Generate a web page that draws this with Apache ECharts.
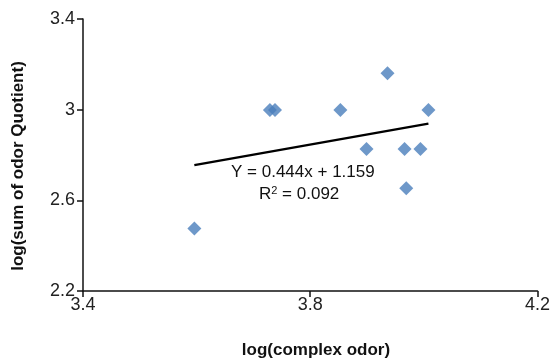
<!DOCTYPE html>
<html>
<head>
<meta charset="utf-8">
<script src="https://cdn.jsdelivr.net/npm/echarts@6/dist/echarts.min.js"></script>
<style>html,body{margin:0;padding:0;background:#fff;}#c{width:553px;height:359px;}</style>
</head>
<body>
<div id="c"></div>
<script>
var xValues = [3.596, 3.729, 3.738, 3.853, 3.936, 3.899, 3.966, 3.994, 3.969, 4.008];
var yValues = [2.476, 2.998, 2.998, 2.998, 3.161, 2.827, 2.827, 2.827, 2.653, 2.998];
var trendSlope = 0.444;
var trendIntercept = 1.159;
var xTicks = [3.4, 3.8, 4.2];
var yTicks = [2.2, 2.6, 3, 3.4];
var equationText = 'Y = 0.444x + 1.159';
var r2Text = 'R{sup|2} = 0.092';

var points = xValues.map(function (x, i) { return [x, yValues[i]]; });
var xmin = Math.min.apply(null, xValues), xmax = Math.max.apply(null, xValues);
var trend = [[xmin, trendSlope * xmin + trendIntercept], [xmax, trendSlope * xmax + trendIntercept]];

var chart = echarts.init(document.getElementById('c'), null, {renderer: 'canvas'});
var font = 'Liberation Sans, Arial, Helvetica, sans-serif';
var axisCommon = {
  splitLine: {show: false},
  axisLine: {show: true, onZero: false, lineStyle: {color: '#111', width: 1.5}},
  axisTick: {show: true, inside: false, length: 6, lineStyle: {color: '#111', width: 1.5}},
  axisLabel: {color: '#222', fontSize: 18, fontFamily: font}
};
chart.setOption({
  backgroundColor: '#fff',
  animation: false,
  grid: {left: 83, right: 13, top: 19, bottom: 68, containLabel: false},
  xAxis: Object.assign({}, axisCommon, {
    type: 'value', min: xTicks[0], max: xTicks[xTicks.length - 1], interval: 0.4,
    axisLabel: Object.assign({}, axisCommon.axisLabel, {margin: 5, formatter: function (v) { return String(+v.toFixed(1)); }})
  }),
  yAxis: Object.assign({}, axisCommon, {
    type: 'value', min: yTicks[0], max: yTicks[yTicks.length - 1], interval: 0.4,
    axisLabel: Object.assign({}, axisCommon.axisLabel, {margin: 8, formatter: function (v) { return String(+v.toFixed(1)); }})
  }),
  series: [
    {
      type: 'line', data: trend, symbol: 'none', silent: true,
      lineStyle: {color: '#000', width: 2.4}, z: 2
    },
    {
      type: 'scatter', data: points, symbol: 'diamond', symbolSize: 14,
      itemStyle: {color: '#4a7ebb'}, z: 3
    }
  ],
  graphic: [
    {type: 'text', left: 231, top: 164, style: {text: equationText, fontSize: 17, fontFamily: font, fill: '#111'}},
    {type: 'text', left: 259, top: 185, style: {text: r2Text, fontSize: 17, fontFamily: font, fill: '#111', rich: {sup: {fontSize: 11, verticalAlign: 'top', padding: [0,0,8,0], fontFamily: font}}}},
    {type: 'text', x: 316, y: 342, style: {text: 'log(complex odor)', fontSize: 17, fontWeight: 'bold', fontFamily: font, fill: '#111', align: 'center', verticalAlign: 'top'}},
    {type: 'text', x: 18, y: 166, rotation: Math.PI / 2, style: {text: 'log(sum of odor Quotient)', fontSize: 17, fontWeight: 'bold', fontFamily: font, fill: '#111', align: 'center', verticalAlign: 'middle'}}
  ]
});
</script>
</body>
</html>
